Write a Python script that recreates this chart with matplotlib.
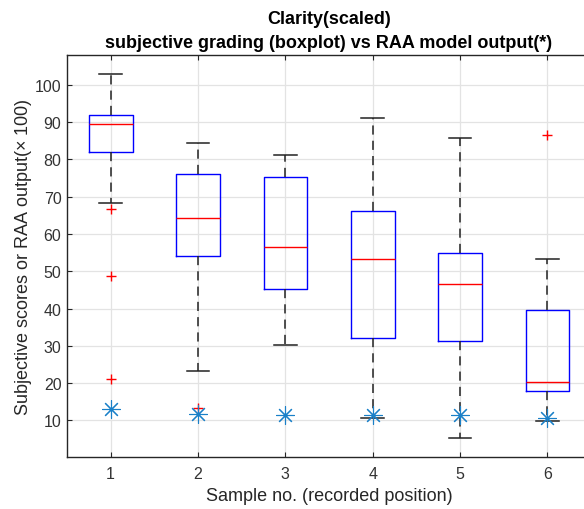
import matplotlib
matplotlib.use("Agg")
import matplotlib.pyplot as plt

plt.rcParams['font.family'] = ['Liberation Sans', 'DejaVu Sans']
plt.rcParams['mathtext.fontset'] = 'custom'
plt.rcParams['mathtext.rm'] = 'Liberation Sans'

samples = [1, 2, 3, 4, 5, 6]
whisker_low = [68.3, 23.2, 30.1, 10.6, 5.2, 9.9]
q1 = [82.0, 54.1, 45.3, 32.1, 31.3, 17.9]
medians = [89.5, 64.2, 56.5, 53.2, 46.5, 20.2]
q3 = [91.9, 76.0, 75.3, 66.2, 54.9, 39.7]
whisker_high = [102.8, 84.3, 81.1, 91.0, 85.8, 53.4]
outliers = [[66.8, 48.7, 21.1], [13.2], [], [], [], [86.6]]
raa_output = [13.0, 11.7, 11.5, 11.5, 11.4, 10.5]
tick_labels = ['1', '2', '3', '4', '5', '6']

fig = plt.figure(figsize=(5.84, 5.10), dpi=100)
ax = fig.add_axes([67/584, (510-457.5)/510, 524/584, (457.5-56)/510])

stats = []
for i in range(len(samples)):
    stats.append(dict(med=medians[i], q1=q1[i], q3=q3[i],
                      whislo=whisker_low[i], whishi=whisker_high[i],
                      fliers=outliers[i]))

ax.bxp(stats, positions=samples, widths=0.5, capwidths=0.26,
       boxprops=dict(color='#0000ff', linewidth=1.0),
       medianprops=dict(color='#ff0000', linewidth=1.0),
       whiskerprops=dict(color='#222222', linewidth=1.1, linestyle=(0, (6, 4))),
       capprops=dict(color='#222222', linewidth=1.1),
       flierprops=dict(marker='+', markeredgecolor='#ff0000', markersize=7,
                       markeredgewidth=1.0, linestyle='none'),
       zorder=3)

ax.plot(samples, raa_output, linestyle='none', marker=(8, 2, 0),
        markersize=13, markeredgewidth=0.8, color='#1a80c8', zorder=4)

ax.set_xlim(0.5, 6.5)
ax.set_ylim(0.3, 108)
ax.set_xticks(samples)
ax.set_xticklabels(tick_labels)
ax.set_yticks(range(10, 101, 10))
ax.grid(True, color='#e3e3e3', linewidth=0.9, zorder=0)
ax.set_axisbelow(True)
ax.tick_params(direction='in', length=3.5, top=True, right=True,
               labelsize=11.5, colors='#262626', labelcolor='#333333', width=0.8)
ax.tick_params(axis='x', pad=7)
ax.tick_params(axis='y', pad=4)
for s in ax.spines.values():
    s.set_color('#262626')
    s.set_linewidth(1.0)

ax.set_title('Clarity(scaled)\nsubjective grading (boxplot) vs RAA model output(*)',
             fontsize=13, fontweight='bold', color='black', pad=6, linespacing=1.55)
ax.set_xlabel('Sample no. (recorded position)', fontsize=13, color='#262626', labelpad=4)
ax.set_ylabel(r'Subjective scores or RAA output($\times$ 100)', fontsize=13,
              color='#262626', labelpad=0.5)

fig.savefig('out.png', dpi=100)
